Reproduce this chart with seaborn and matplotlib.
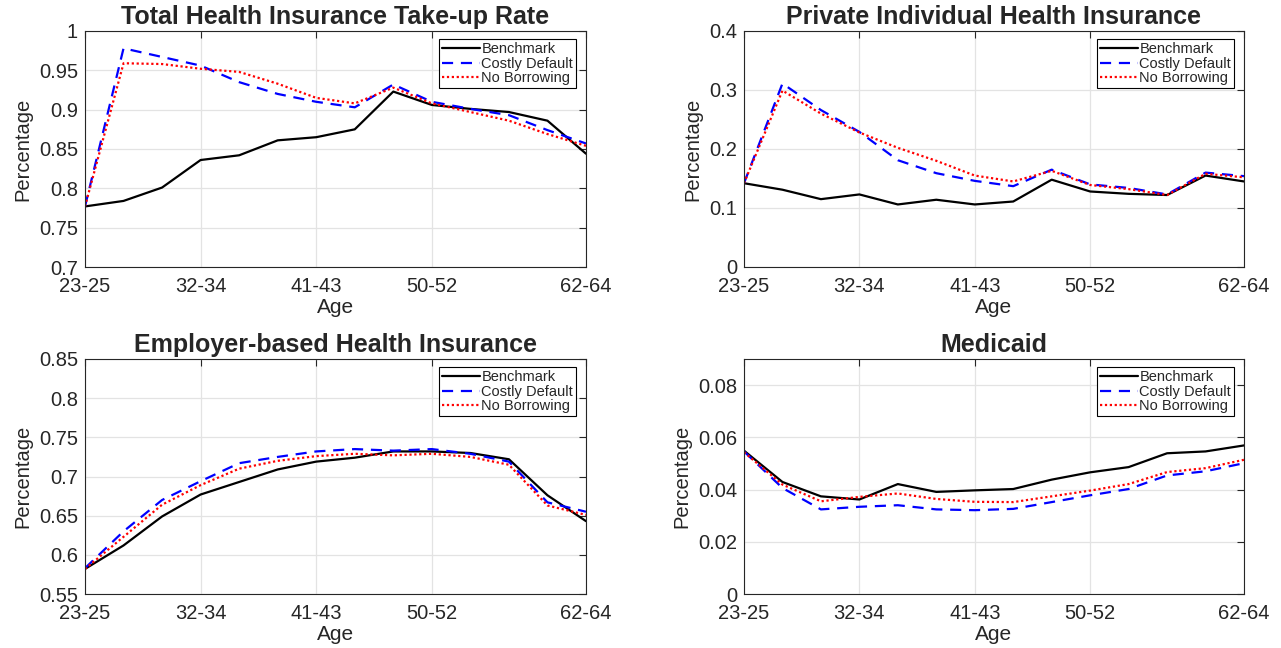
import pandas as pd
import matplotlib.pyplot as plt
import seaborn as sns

age_groups = ["23-25", "26-28", "29-31", "32-34", "35-37", "38-40", "41-43",
              "44-46", "47-49", "50-52", "53-55", "56-58", "59-61", "62-64"]
tick_idx = [0, 3, 6, 9, 13]
series = ["Benchmark", "Costly Default", "No Borrowing"]

# Total take-up
total_bench = [0.777, 0.784, 0.801, 0.836, 0.842, 0.861, 0.865, 0.875, 0.923, 0.906, 0.901, 0.897, 0.886, 0.844]
total_costly = [0.777, 0.978, 0.967, 0.956, 0.935, 0.920, 0.910, 0.903, 0.932, 0.910, 0.901, 0.893, 0.874, 0.857]
total_noborr = [0.777, 0.959, 0.958, 0.952, 0.948, 0.933, 0.915, 0.908, 0.928, 0.908, 0.897, 0.886, 0.869, 0.854]

# Private individual
priv_bench = [0.142, 0.131, 0.115, 0.123, 0.106, 0.114, 0.106, 0.111, 0.148, 0.128, 0.124, 0.122, 0.155, 0.145]
priv_costly = [0.142, 0.311, 0.266, 0.229, 0.181, 0.159, 0.146, 0.137, 0.165, 0.140, 0.134, 0.123, 0.160, 0.154]
priv_noborr = [0.142, 0.299, 0.260, 0.228, 0.202, 0.180, 0.155, 0.145, 0.163, 0.139, 0.132, 0.122, 0.158, 0.152]

# Employer-based
emp_bench = [0.582, 0.612, 0.649, 0.677, 0.693, 0.709, 0.719, 0.724, 0.732, 0.732, 0.730, 0.722, 0.676, 0.643]
emp_costly = [0.583, 0.630, 0.670, 0.694, 0.717, 0.725, 0.732, 0.735, 0.733, 0.735, 0.729, 0.719, 0.667, 0.655]
emp_noborr = [0.582, 0.623, 0.664, 0.689, 0.710, 0.720, 0.726, 0.729, 0.727, 0.729, 0.725, 0.715, 0.663, 0.651]

# Medicaid
med_bench = [0.0549, 0.0429, 0.0374, 0.0362, 0.0421, 0.0391, 0.0397, 0.0402, 0.0438, 0.0466, 0.0486, 0.0539, 0.0546, 0.0569]
med_costly = [0.0546, 0.0406, 0.0324, 0.0334, 0.0340, 0.0324, 0.0321, 0.0326, 0.0352, 0.0378, 0.0402, 0.0454, 0.0470, 0.0501]
med_noborr = [0.0543, 0.0419, 0.0355, 0.0372, 0.0385, 0.0364, 0.0353, 0.0352, 0.0374, 0.0396, 0.0421, 0.0467, 0.0482, 0.0514]

panels = [
    ("Total Health Insurance Take-up Rate", [total_bench, total_costly, total_noborr],
     (0.7, 1.0), [0.7, 0.75, 0.8, 0.85, 0.9, 0.95, 1.0], ["0.7", "0.75", "0.8", "0.85", "0.9", "0.95", "1"]),
    ("Private Individual Health Insurance", [priv_bench, priv_costly, priv_noborr],
     (0.0, 0.4), [0, 0.1, 0.2, 0.3, 0.4], ["0", "0.1", "0.2", "0.3", "0.4"]),
    ("Employer-based Health Insurance", [emp_bench, emp_costly, emp_noborr],
     (0.55, 0.85), [0.55, 0.6, 0.65, 0.7, 0.75, 0.8, 0.85], ["0.55", "0.6", "0.65", "0.7", "0.75", "0.8", "0.85"]),
    ("Medicaid", [med_bench, med_costly, med_noborr],
     (0.0, 0.09), [0, 0.02, 0.04, 0.06, 0.08], ["0", "0.02", "0.04", "0.06", "0.08"]),
]

colors = ["black", "#0000ff", "#ff0000"]
styles = ["-", (0, (5, 3.5)), (0, (1, 1.2))]

sns.set_style("white")
plt.rcParams['font.family'] = ['Liberation Sans', 'DejaVu Sans']

fig = plt.figure(figsize=(12.81, 6.48), dpi=100)
W, H = 1281, 648
boxes = [(85, 31, 586, 267), (744, 31, 1244, 267), (85, 359, 586, 594), (744, 359, 1244, 594)]

for (title, data, ylim, yticks, ylabels), (l, t, r, b) in zip(panels, boxes):
    ax = fig.add_axes([l / W, 1 - b / H, (r - l) / W, (b - t) / H])
    df = pd.DataFrame({"x": list(range(len(age_groups))) * 3,
                       "y": data[0] + data[1] + data[2],
                       "Scenario": [s for s in series for _ in age_groups]})
    for s, c, ls in zip(series, colors, styles):
        sns.lineplot(data=df[df["Scenario"] == s], x="x", y="y", color=c,
                     linestyle=ls, linewidth=1.6, label=s, ax=ax)
    ax.set_xlim(0, 13)
    ax.set_ylim(*ylim)
    ax.set_xticks(tick_idx)
    ax.set_xticklabels([age_groups[i] for i in tick_idx])
    ax.set_yticks(yticks)
    ax.set_yticklabels(ylabels)
    ax.grid(True, color="#e3e3e3", linewidth=0.9)
    ax.set_axisbelow(True)
    ax.tick_params(direction="in", length=5, width=0.8, top=True, right=True,
                   labelsize=14.5, colors="#262626")
    ax.tick_params(axis="x", pad=7)
    ax.tick_params(axis="y", pad=5)
    for sp in ax.spines.values():
        sp.set_color("#262626")
        sp.set_linewidth(0.8)
    ax.set_title(title, fontsize=18, fontweight="bold", pad=5)
    ax.set_xlabel("Age", fontsize=15, color="#262626", labelpad=1.5)
    ax.set_ylabel("Percentage", fontsize=14.5, color="#262626", labelpad=5)
    leg = ax.legend(loc="upper right", bbox_to_anchor=(1 - 10 / (r - l), 1 - 8 / (b - t)),
                    borderaxespad=0, fontsize=10.5, frameon=True, fancybox=False,
                    edgecolor="black", framealpha=1, handlelength=2.6,
                    handletextpad=0.1, labelspacing=0.05, borderpad=0.2)
    leg.get_frame().set_linewidth(0.8)

fig.savefig("out.png", dpi=100)
